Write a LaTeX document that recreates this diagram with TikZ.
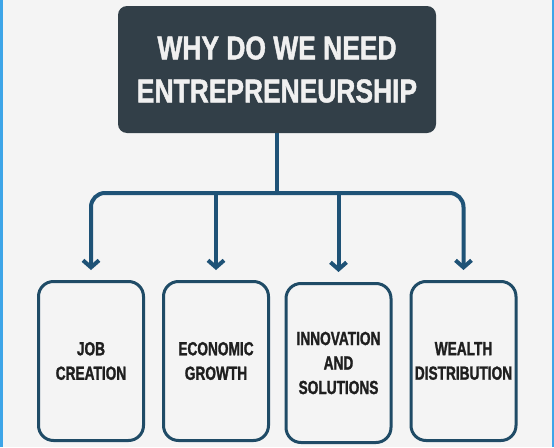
\documentclass[tikz,border=0pt]{standalone}
\usepackage{fontspec}
\setmainfont[FakeStretch=0.8, BoldFeatures={FakeBold=1.3}]{Liberation Sans}
\newfontfamily\narrowfont[FakeStretch=0.72, BoldFeatures={FakeBold=1.3}]{Liberation Sans}
\usetikzlibrary{arrows.meta}
\definecolor{slate}{HTML}{323F48}
\definecolor{linkblue}{HTML}{1E5276}
\definecolor{boxblue}{HTML}{1F4B66}
\definecolor{paper}{HTML}{F4F4F4}
\definecolor{edge}{HTML}{3DA5E8}
\tikzset{
    reason/.style={draw=boxblue, line width=3pt, rounded corners=15pt, inner sep=0pt, minimum width=105pt, minimum height=159pt, align=center, text=black!88, font=\narrowfont\bfseries\fontsize{19}{24.5}\selectfont},
    stem/.style={draw=linkblue, line width=4pt, rounded corners=14pt},
    pointer/.style={-{Straight Barb[length=7pt,width=16pt]}, shorten >=10pt}
}
\begin{document}
\begin{tikzpicture}[x=1pt,y=-1pt]
    \fill[color=paper] (0,0) rectangle (554,447);
    \fill[color=edge] (0,0) rectangle (2.5,447);
    \fill[color=edge] (551.5,0) rectangle (554,447);
    \useasboundingbox (0,0) rectangle (554,447);
    \node[fill=slate, rounded corners=9pt, minimum width=318pt, minimum height=127pt, align=center, text=white!94!black, font=\bfseries\fontsize{33}{43}\selectfont] (why) at (277,69.5) {WHY DO WE NEED\\ENTREPRENEURSHIP};
    \node[reason] (job) at (91,361) {JOB\\CREATION};
    \node[reason] (growth) at (216,361) {ECONOMIC\\GROWTH};
    \node[reason] (innovation) at (338.5,363) {INNOVATION\\AND\\SOLUTIONS};
    \node[reason] (wealth) at (463.5,361) {WEALTH\\DISTRIBUTION};
    \coordinate (split) at (277,193);
    \draw[stem] (why.south) -- (split);
    \draw[stem, pointer] (split) -| (job.north);
    \draw[stem, pointer] (split) -| (wealth.north);
    \draw[stem, pointer] (growth.north |- split) -- (growth.north);
    \draw[stem, pointer] (innovation.north |- split) -- (innovation.north);
\end{tikzpicture}
\end{document}
